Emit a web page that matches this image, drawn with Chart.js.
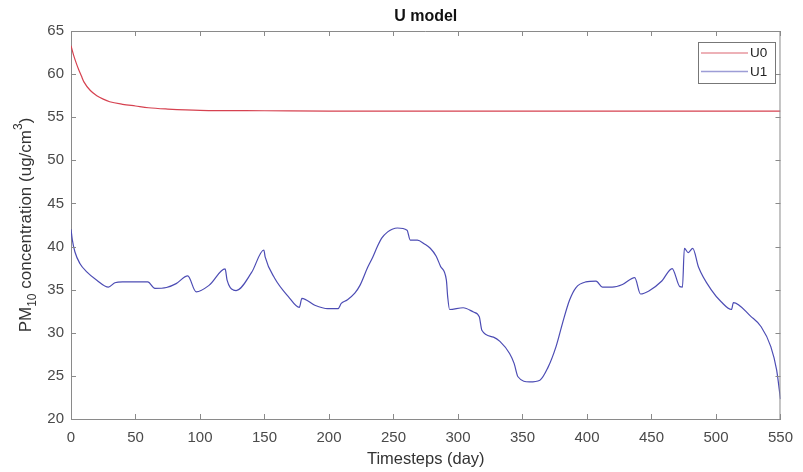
<!DOCTYPE html>
<html>
<head>
<meta charset="utf-8">
<title>U model</title>
<script src="https://cdn.jsdelivr.net/npm/chart.js@4.4.1/dist/chart.umd.min.js"></script>
<style>
  html, body { margin: 0; padding: 0; background: #fff; }
  #wrap { width: 803px; height: 472px; }
</style>
</head>
<body>
<div id="wrap"><canvas id="uChart" width="803" height="472"></canvas></div>
<script>
// U model - PM10 concentration over timesteps (U0 vs U1)

const seriesLabels = ['U0', 'U1'];
const seriesColors = ['rgb(214, 66, 80)', 'rgb(76, 76, 180)'];

// U0: smooth decay toward a steady value
const u0Days = [0, 2, 4, 6, 8, 10, 15, 20, 25, 30, 40, 50, 60, 75, 100, 150, 200, 300, 400, 550];
const u0Values = [63.3, 62.2, 61.3, 60.5, 59.8, 59.1, 58.1, 57.5, 57.1, 56.8, 56.5, 56.3, 56.1, 55.95, 55.8, 55.75, 55.7, 55.7, 55.7, 55.7];

// U1
const u1Days = [0, 1, 3, 7, 12, 20, 29, 34, 40, 59.5, 65, 74, 81.5, 90.5, 97, 107, 119.5, 121, 126, 128,
  140, 149.5, 150.5, 158, 168.5, 177, 179, 189, 199, 207, 209.5, 214, 220, 224, 230, 234, 237.5, 241, 245.5,
  249, 253, 260.5, 263, 268.5, 274, 278.5, 283, 286.5, 291, 292, 293.5, 304, 312, 316.5, 318.5, 327.5, 332.5,
  340, 343.5, 346.5, 355.5, 363.5, 369.5, 376, 381, 386.5, 391.5, 399, 407, 412, 419.5, 427.5, 437, 441.5,
  448, 458, 466, 472, 474, 475.5, 478.5, 482, 486.5, 496.5, 504, 512, 513.5, 527, 535, 542.5, 547, 550];
const u1Values = [42.0, 40.8, 39.4, 38.0, 37.1, 36.1, 35.3, 35.8, 35.9, 35.9, 35.15, 35.25, 35.7, 36.6, 34.75, 35.5, 37.4, 36.1, 34.95, 34.9,
  37.0, 39.6, 38.8, 36.3, 34.2, 32.95, 34.0, 33.2, 32.8, 32.8, 33.4, 33.8, 34.6, 35.5, 37.6, 38.8, 40.0, 41.0, 41.7,
  42.0, 42.15, 41.9, 40.75, 40.75, 40.3, 39.8, 38.9, 37.7, 36.1, 34.2, 32.7, 32.9, 32.4, 31.85, 30.3, 29.5, 29.0,
  27.6, 26.45, 24.9, 24.3, 24.5, 25.9, 28.4, 31.1, 33.8, 35.25, 35.9, 36.0, 35.3, 35.3, 35.6, 36.4, 34.5,
  34.85, 36.0, 37.45, 35.35, 35.3, 39.8, 39.3, 39.8, 37.6, 34.95, 33.6, 32.7, 33.5, 31.9, 30.7, 28.4, 25.7, 22.3];

const xTicks = [0, 50, 100, 150, 200, 250, 300, 350, 400, 450, 500, 550];
const yTicks = [20, 25, 30, 35, 40, 45, 50, 55, 60, 65];

const FONT = "'Liberation Sans', Arial, Helvetica, sans-serif";
const FRAME = '#8a8a8a';

function toPoints(days, values) {
  return days.map((d, i) => ({ x: d, y: values[i] }));
}

// draws the MATLAB-like frame, inward ticks, titles and the boxed legend
const matlabFrame = {
  id: 'matlabFrame',
  afterDraw(chart) {
    const ctx = chart.ctx;
    const area = chart.chartArea;
    const xs = chart.scales.x;
    const ys = chart.scales.y;
    const tickLen = 5;

    ctx.save();
    ctx.strokeStyle = FRAME;
    ctx.lineWidth = 1;
    ctx.beginPath();
    ctx.moveTo(area.left, area.top + 0.5);
    ctx.lineTo(area.right, area.top + 0.5);
    ctx.moveTo(area.right - 0.5, area.top);
    ctx.lineTo(area.right - 0.5, area.bottom);
    xTicks.forEach(v => {
      const px = Math.round(xs.getPixelForValue(v)) + 0.5;
      ctx.moveTo(px, area.bottom);
      ctx.lineTo(px, area.bottom - tickLen);
      ctx.moveTo(px, area.top);
      ctx.lineTo(px, area.top + tickLen);
    });
    yTicks.forEach(v => {
      const py = Math.round(ys.getPixelForValue(v)) + 0.5;
      ctx.moveTo(area.left, py);
      ctx.lineTo(area.left + tickLen, py);
      ctx.moveTo(area.right, py);
      ctx.lineTo(area.right - tickLen, py);
    });
    ctx.stroke();

    // title
    const cx = (area.left + area.right) / 2;
    ctx.fillStyle = '#111';
    ctx.textAlign = 'center';
    ctx.textBaseline = 'middle';
    ctx.font = 'bold 16px ' + FONT;
    ctx.fillText('U model', cx, 17);

    // x axis title
    ctx.fillStyle = '#333';
    ctx.font = '16.5px ' + FONT;
    ctx.fillText('Timesteps (day)', cx, 459);

    // y axis title with subscript / superscript
    const parts = [
      { t: 'PM', size: 17, dy: 0 },
      { t: '10', size: 12, dy: 5 },
      { t: ' concentration (ug/cm', size: 17, dy: 0 },
      { t: '3', size: 12, dy: -9 },
      { t: ')', size: 17, dy: 0 }
    ];
    let total = 0;
    parts.forEach(p => {
      ctx.font = p.size + 'px ' + FONT;
      p.w = ctx.measureText(p.t).width;
      total += p.w;
    });
    ctx.translate(31, (area.top + area.bottom) / 2);
    ctx.rotate(-Math.PI / 2);
    ctx.textAlign = 'left';
    ctx.textBaseline = 'alphabetic';
    let x = -total / 2;
    parts.forEach(p => {
      ctx.font = p.size + 'px ' + FONT;
      ctx.fillText(p.t, x, p.dy);
      x += p.w;
    });
    ctx.setTransform(1, 0, 0, 1, 0, 0);

    // legend box
    const box = { left: 698.5, top: 42.5, width: 77, height: 41 };
    ctx.fillStyle = '#fff';
    ctx.fillRect(box.left, box.top, box.width, box.height);
    ctx.strokeStyle = '#777';
    ctx.lineWidth = 1;
    ctx.strokeRect(box.left, box.top, box.width, box.height);
    ctx.font = '13.5px ' + FONT;
    ctx.textBaseline = 'middle';
    ctx.textAlign = 'left';
    seriesLabels.forEach((label, i) => {
      const ly = 53 + i * 18.5;
      ctx.save();
      ctx.globalAlpha = 0.55;
      ctx.beginPath();
      ctx.strokeStyle = seriesColors[i];
      ctx.lineWidth = 1.6;
      ctx.moveTo(701, ly);
      ctx.lineTo(748, ly);
      ctx.stroke();
      ctx.restore();
      ctx.fillStyle = '#222';
      ctx.fillText(label, 750, ly + 0.5);
    });
    ctx.restore();
  }
};

const chart = new Chart(document.getElementById('uChart'), {
  type: 'line',
  data: {
    datasets: [
      {
        label: seriesLabels[0],
        data: toPoints(u0Days, u0Values),
        borderColor: seriesColors[0],
        borderWidth: 1.2,
        pointRadius: 0,
        cubicInterpolationMode: 'monotone'
      },
      {
        label: seriesLabels[1],
        data: toPoints(u1Days, u1Values),
        borderColor: seriesColors[1],
        borderWidth: 1.2,
        pointRadius: 0,
        cubicInterpolationMode: 'monotone'
      }
    ]
  },
  options: {
    responsive: false,
    animation: false,
    layout: { padding: { top: 31, right: 17, left: 0, bottom: 0 } },
    plugins: {
      legend: { display: false },
      title: { display: false },
      tooltip: { enabled: false }
    },
    scales: {
      x: {
        type: 'linear',
        min: 0,
        max: 550,
        afterBuildTicks: scale => { scale.ticks = xTicks.map(v => ({ value: v })); },
        afterFit: scale => { scale.height = 53; },
        grid: { display: false, drawTicks: false },
        border: { display: true, color: FRAME, width: 1 },
        ticks: {
          padding: 10,
          maxRotation: 0,
          color: '#4a4a4a',
          font: { family: FONT, size: 15 }
        }
      },
      y: {
        type: 'linear',
        min: 20,
        max: 65,
        afterBuildTicks: scale => { scale.ticks = yTicks.map(v => ({ value: v })); },
        afterFit: scale => { scale.width = 71; },
        grid: { display: false, drawTicks: false },
        border: { display: true, color: FRAME, width: 1 },
        ticks: {
          padding: 7,
          color: '#4a4a4a',
          font: { family: FONT, size: 15 }
        }
      }
    }
  },
  plugins: [matlabFrame]
});
</script>
</body>
</html>
